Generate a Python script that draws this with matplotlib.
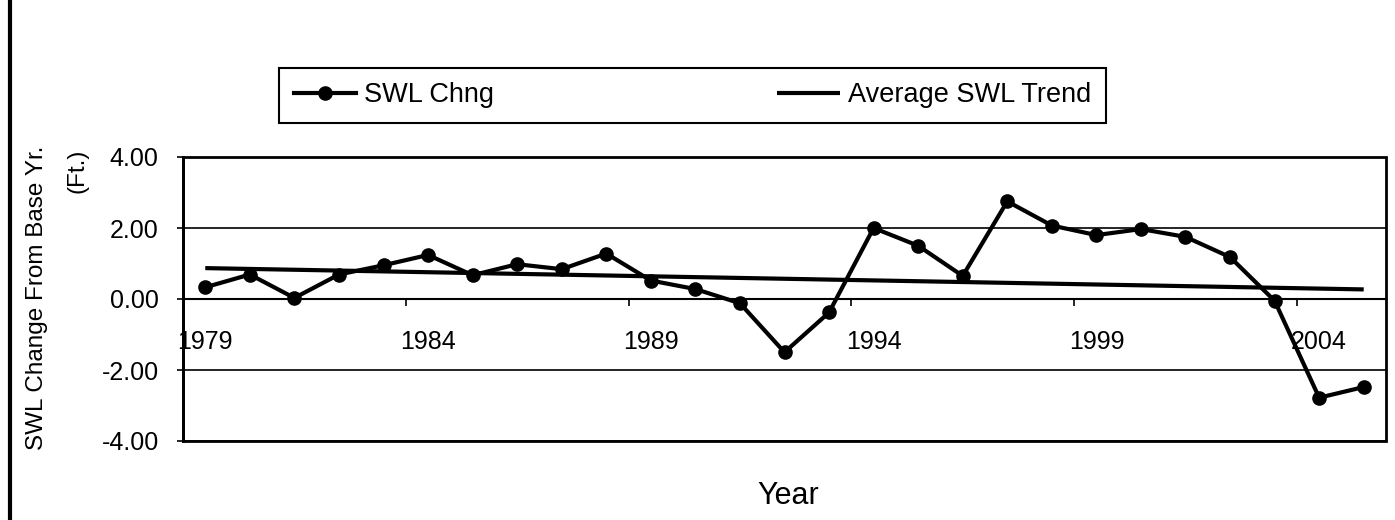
import matplotlib.pyplot as plt
import numpy as np
from matplotlib.lines import Line2D

plt.rcParams['font.family'] = ['Liberation Sans', 'DejaVu Sans']

# data
years = list(range(1979, 2006))
swl_chng = [0.33, 0.69, 0.03, 0.69, 0.95, 1.24, 0.67, 0.98, 0.84, 1.28,
            0.52, 0.28, -0.12, -1.50, -0.38, 2.00, 1.50, 0.65, 2.75, 2.07,
            1.80, 1.97, 1.75, 1.18, -0.05, -2.78, -2.48]
trend_years = [1979, 2005]
trend_vals = [0.87, 0.27]
y_ticks = [-4, -2, 0, 2, 4]
label_every = 5

W, H, dpi = 1395, 520, 100
fig = plt.figure(figsize=(W / dpi, H / dpi), dpi=dpi)
ax = fig.add_axes([183 / W, 1 - 441 / H, (1386 - 183) / W, (441 - 157) / H])

x = np.arange(len(years))
tx = [years.index(y) for y in trend_years]

ax.plot(tx, trend_vals, color='black', lw=3.0, solid_capstyle='butt',
        label='Average SWL Trend', zorder=3)
ax.plot(x, swl_chng, color='black', lw=3.0, marker='o', ms=9.5,
        label='SWL Chng', zorder=4)

ax.set_xlim(-0.5, len(years) - 0.5)
ax.set_ylim(y_ticks[0], y_ticks[-1])

# frame from the axes patch, the category axis crosses at zero
ax.patch.set_edgecolor('black')
ax.patch.set_linewidth(2.0)
for s in ['top', 'right']:
    ax.spines[s].set_visible(False)
ax.spines['left'].set_linewidth(2.0)
ax.spines['bottom'].set_position(('data', 0))
ax.spines['bottom'].set_linewidth(1.5)

ax.set_yticks(y_ticks)
ax.set_yticklabels([f'{v:.2f}' for v in y_ticks])
ax.tick_params(axis='y', direction='out', length=4.5, width=1.2, pad=13, labelsize=18)
ax.yaxis.grid(True, color='black', lw=1.2)

ax.set_xticks(np.arange(label_every - 0.5, len(years) - 0.5, label_every))
ax.set_xticklabels([])
ax.tick_params(axis='x', which='major', direction='out', length=5, width=1.2)
ax.set_xticks(x[::label_every], minor=True)
ax.set_xticklabels([str(y) for y in years[::label_every]], minor=True)
ax.tick_params(axis='x', which='minor', length=0, pad=22, labelsize=18)

handles, labels = ax.get_legend_handles_labels()
leg = fig.legend(handles[::-1], labels[::-1], ncol=2, loc='center', mode='expand',
                 bbox_to_anchor=(279 / W, 1 - 126 / H, 827 / W, 61 / H),
                 borderaxespad=0, fontsize=19.5, frameon=True, fancybox=False,
                 edgecolor='black', framealpha=1, handlelength=2.3,
                 handletextpad=0.3, borderpad=0.55)
leg.get_frame().set_linewidth(1.5)

fig.text(37 / W, 1 - 146 / H, 'SWL Change From Base Yr.', rotation=90,
         ha='center', va='top', fontsize=17.5)
fig.text(78 / W, 1 - 149 / H, '(Ft.)', rotation=90,
         ha='center', va='top', fontsize=17.5)
fig.text(788 / W, 1 - 496 / H, 'Year', ha='center', va='center', fontsize=22)

# page edge of the scan
fig.add_artist(Line2D([10 / W, 10 / W], [0, 1], color='black', lw=3,
                      transform=fig.transFigure))

fig.savefig('out.png', dpi=dpi)
